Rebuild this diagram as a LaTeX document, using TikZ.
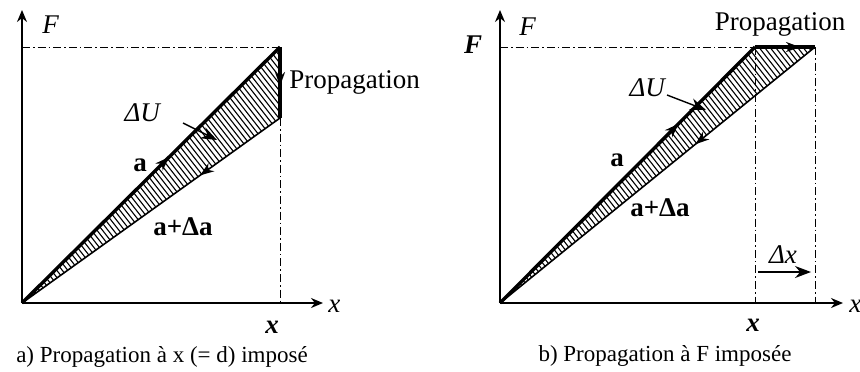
\documentclass[tikz,border=0pt]{standalone}
\usepackage{fontspec}
\setmainfont{Liberation Serif}
\usetikzlibrary{arrows.meta, decorations.markings}

\begin{document}
\begin{tikzpicture}[
        x=0.5pt, y=-0.5pt,
        axis/.style={line width=0.8pt, -{Stealth[length=6pt, width=5pt]}},
        guide/.style={line width=0.5pt, dash pattern=on 4pt off 1.5pt on 0.8pt off 1.5pt},
        loadline/.style={line width=1.7pt},
        unloadline/.style={line width=0.8pt},
        hatchline/.style={line width=0.55pt},
        midarrow/.style={postaction={decorate}, decoration={markings, mark=at position #1 with {\arrow{Stealth[length=7pt, width=5pt]}}}},
        arrow/.style={line width=0.7pt, -{Stealth[length=8pt, width=6pt]}},
        lbl/.style={font=\fontsize{13.5}{15}\selectfont, inner sep=1pt},
        caption/.style={font=\fontsize{11.5}{13}\selectfont, inner sep=0pt}
    ]
    \useasboundingbox (0,0) rectangle (860,371);

    % a) propagation at imposed x
    \coordinate (Oa) at (22,303);
    \coordinate (Fa) at (22,10);
    \coordinate (Xa) at (323,303);
    \coordinate (Aa) at (280,47);
    \coordinate (Ba) at (280,118);
    \coordinate (Ya) at (22,47);
    \coordinate (Za) at (280,303);
    \begin{scope}
        \clip (Oa) -- (Aa) -- (Ba) -- cycle;
        \foreach \h in {-270,-264.5,...,285}
            \draw[hatchline] (\h,0) -- ++(290,371);
    \end{scope}
    \draw[guide] (Ya) -- (Aa);
    \draw[guide] (Ba) -- (Za);
    \draw[axis] (Oa) -- (Fa);
    \draw[axis] (Oa) -- (Xa);
    \draw[loadline, midarrow=0.57] (Oa) -- (Aa);
    \draw[unloadline, midarrow=0.31] (Ba) -- (Oa);
    \draw[loadline, midarrow=0.55] (Aa) -- (Ba);
    \node[lbl, anchor=west] (Fla) at (40,25) {\textit{F}};
    \node[lbl, anchor=west] (xla) at (326,306) {\textit{x}};
    \node[lbl] (xba) at (272,327) {\textbf{\textit{x}}};
    \node[lbl, anchor=west] (propa) at (287,82) {Propagation};
    \node[lbl] (dUa) at (143,113) {\textit{ΔU}};
    \coordinate (dUsa) at (183,123);
    \coordinate (dUta) at (217,140);
    \draw[arrow] (dUsa) -- (dUta);
    \node[lbl] (aa) at (140,165) {\textbf{a}};
    \node[lbl] (ada) at (183,227) {\textbf{a+Δa}};
    \node[caption] (capa) at (162,357) {a) Propagation à x (= d) imposé};

    % b) propagation at imposed F
    \coordinate (Ob) at (500,303);
    \coordinate (Fb) at (500,10);
    \coordinate (Xb) at (843,303);
    \coordinate (Ab) at (755,47);
    \coordinate (Cb) at (815,47);
    \coordinate (Yb) at (500,47);
    \coordinate (Zb) at (755,303);
    \coordinate (Wb) at (815,303);
    \begin{scope}
        \clip (Ob) -- (Ab) -- (Cb) -- cycle;
        \foreach \h in {205,210.5,...,820}
            \draw[hatchline] (\h,0) -- ++(290,371);
    \end{scope}
    \draw[guide] (Yb) -- (Ab);
    \draw[guide] (Ab) -- (Zb);
    \draw[guide] (Cb) -- (Wb);
    \draw[axis] (Ob) -- (Fb);
    \draw[axis] (Ob) -- (Xb);
    \draw[loadline, midarrow=0.7] (Ob) -- (Ab);
    \draw[unloadline, midarrow=0.38] (Cb) -- (Ob);
    \draw[loadline, midarrow=0.75] (Ab) -- (Cb);
    \node[lbl, anchor=west] (Flb) at (517,27) {\textit{F}};
    \node[lbl] (Fbb) at (473,45) {\textbf{\textit{F}}};
    \node[lbl, anchor=west] (xlb) at (847,306) {\textit{x}};
    \node[lbl] (xbb) at (753,325) {\textbf{\textit{x}}};
    \node[lbl] (propb) at (780,24) {Propagation};
    \node[lbl] (dUb) at (648,88) {\textit{ΔU}};
    \coordinate (dUsb) at (667,95);
    \coordinate (dUtb) at (706,110);
    \draw[arrow] (dUsb) -- (dUtb);
    \node[lbl] (ab) at (617,160) {\textbf{a}};
    \node[lbl] (adb) at (660,208) {\textbf{a+Δa}};
    \node[lbl] (dxl) at (783,255) {\textit{Δx}};
    \coordinate (dxs) at (758,272);
    \coordinate (dxt) at (811,272);
    \draw[arrow] (dxs) -- (dxt);
    \node[caption] (capb) at (665,356) {b) Propagation à F imposée};
\end{tikzpicture}
\end{document}
